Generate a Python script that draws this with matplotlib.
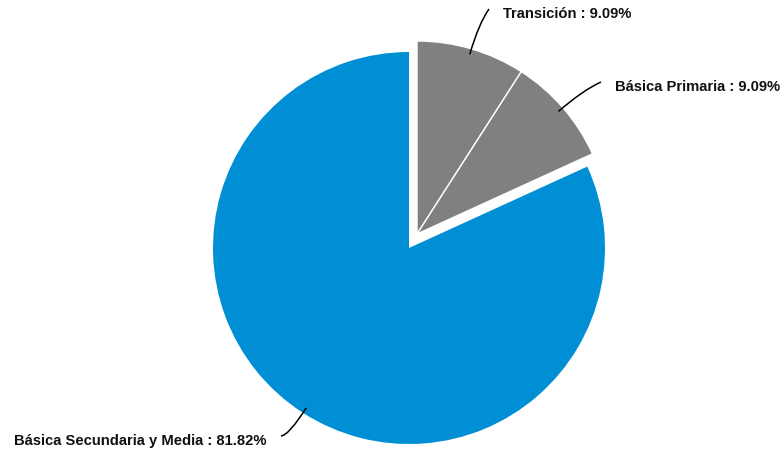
import numpy as np
import matplotlib.pyplot as plt
from matplotlib.path import Path
from matplotlib.patches import PathPatch

plt.rcParams['font.family'] = ['Liberation Sans', 'DejaVu Sans']

# datos
categorias = ["Transición", "Básica Primaria", "Básica Secundaria y Media"]
porcentajes = [9.09, 9.09, 81.82]
colores = ["#808080", "#808080", "#008FD4"]

# disposición en píxeles (y desde abajo)
H = 456
centro = (409, H - 249)
radio = 196
centro_gris = (417, H - 235)   # porciones separadas
radio_gris = 193
pos_texto = [(503, H - 14, "left"), (615, H - 87, "left"), (267, H - 441, "right")]

fig = plt.figure(figsize=(7.84, 4.56), dpi=100)
ax = fig.add_axes([0, 0, 1, 1])

wedges, _ = ax.pie(porcentajes, colors=colores, startangle=90, counterclock=False,
                   center=centro, radius=radio, wedgeprops=dict(linewidth=0))
for w in wedges[:2]:
    w.set_center(centro_gris)
    w.set_radius(radio_gris)
    w.set_edgecolor("white")
    w.set_linewidth(1)

# etiquetas con conectores curvos
for w, cat, p, (tx, ty, ha) in zip(wedges, categorias, porcentajes, pos_texto):
    mid = np.deg2rad((w.theta1 + w.theta2) / 2)
    c = np.array(w.center)
    d = np.array([np.cos(mid), np.sin(mid)])
    p0 = c + d * w.r * 0.97
    p1 = c + d * (w.r + 27)
    ex = tx - 14 if ha == "left" else tx + 14
    p2 = (ex, ty + 4)
    camino = Path([p0, p1, p2], [Path.MOVETO, Path.CURVE3, Path.CURVE3])
    ax.add_patch(PathPatch(camino, fill=False, color="black", lw=1.1))
    ax.text(tx, ty, f"{cat} : {p:.2f}%", ha=ha, va="center",
            fontsize=10.6, fontweight="bold", color="#111111")

ax.set_xlim(0, 784)
ax.set_ylim(0, H)
ax.axis("off")

plt.savefig("out.png", dpi=100)
